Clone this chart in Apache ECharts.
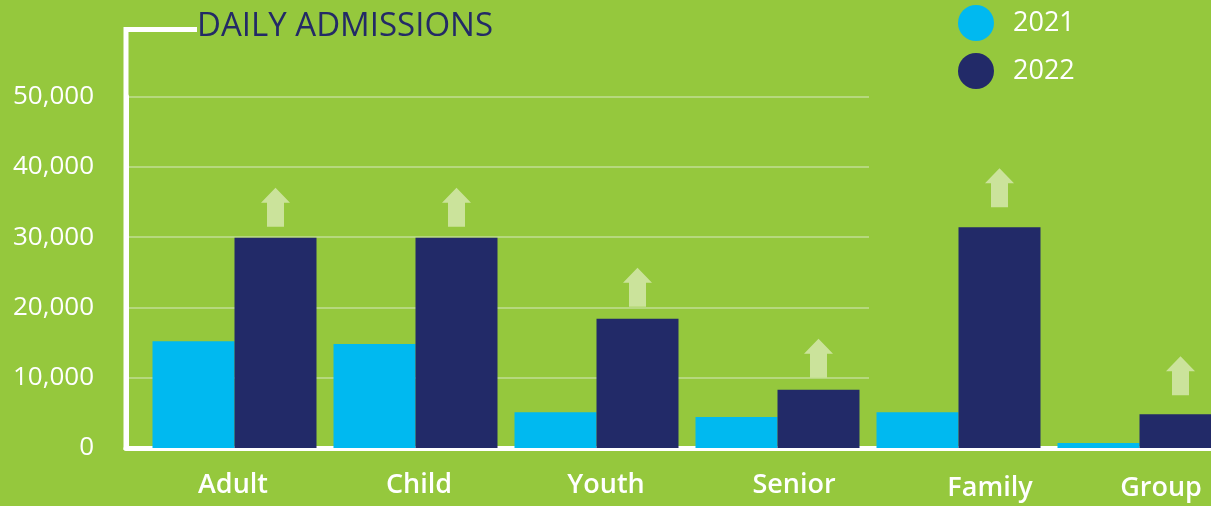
<!DOCTYPE html>
<html lang="en">
<head>
    <meta charset="UTF-8">
    <title>Daily Admissions</title>
    <script src="https://cdn.jsdelivr.net/npm/echarts@6/dist/echarts.min.js"></script>
    <style>
        html, body { margin: 0; padding: 0; background: #95c83d; }
        #main { width: 1211px; height: 506px; }
    </style>
</head>
<body>
<div id="main"></div>
<script>
    // data
    var categories = ['Adult', 'Child', 'Youth', 'Senior', 'Family', 'Group']
    var admissions2021 = [15200, 14800, 5100, 4400, 5100, 700]
    var admissions2022 = [29900, 29900, 18400, 8300, 31400, 4800]
    var yTicks = [0, 10000, 20000, 30000, 40000, 50000]

    var green = '#95c83d'
    var cyan = '#00b9f0'
    var navy = '#222a68'
    var arrowColor = '#cbe39b'
    var font = 'Open Sans'

    // label nudges (px) and arrow lift above each 2022 bar
    var labelShift = [-1.5, 3.5, 9.5, 16.5, 31.5, 21.5]
    var labelDrop = [1, 1, 1, 1, 4, 4]
    var arrowGap = [11, 11, 12, 12, 20, 19]

    var rich = {}
    for (var i = 0; i < categories.length; i++) {
        var s = labelShift[i]
        rich['l' + i] = {
            color: '#fff', fontSize: 27, fontWeight: 600, fontFamily: font,
            padding: [labelDrop[i], s < 0 ? -2 * s : 0, 0, s > 0 ? 2 * s : 0]
        }
    }

    var arrowData = admissions2022.map(function (v, i) {
        return {value: v, symbolOffset: [41, -(19.5 + arrowGap[i])]}
    })

    var yMin = yTicks[0], yMax = yTicks[yTicks.length - 1], yStep = yTicks[1] - yTicks[0]
    var whiteLine = {show: true, lineStyle: {color: '#fff', width: 5}}

    var mCharts = echarts.init(document.getElementById('main'))
    var option = {
        backgroundColor: green,
        animation: false,
        title: {
            text: 'DAILY ADMISSIONS',
            left: 197, top: 10, padding: 0,
            textStyle: {color: '#232a66', fontSize: 33, fontWeight: 'normal', fontFamily: font}
        },
        legend: {
            data: ['2021', '2022'],
            orient: 'vertical',
            left: 958, top: 5, padding: 0,
            icon: 'circle',
            itemWidth: 36, itemHeight: 36, itemGap: 12,
            textStyle: {color: '#fff', fontSize: 27, fontFamily: font, padding: [0, 0, 0, 14]}
        },
        graphic: [{
            type: 'polyline',
            z: 1,
            shape: {points: [[197, 29.5], [126, 29.5], [126, 450]]},
            style: {stroke: '#fff', lineWidth: 5, fill: null}
        }],
        grid: [
            // gridlines + y labels (lines stop at x=869)
            {left: 126, right: 342, top: 96.5, bottom: 58, outerBoundsMode: 'none'},
            // bars, run off the right edge
            {left: 144, right: -19, top: 96.5, bottom: 58, outerBoundsMode: 'none'}
        ],
        xAxis: [
            {
                type: 'category', gridIndex: 0, data: categories,
                axisLine: whiteLine, axisTick: {show: false}, axisLabel: {show: false}
            },
            {
                type: 'category', gridIndex: 1, data: categories,
                axisLine: whiteLine, axisTick: {show: false},
                axisLabel: {
                    margin: 23,
                    formatter: function (value, index) {
                        return '{l' + index + '|' + value + '}'
                    },
                    rich: rich
                }
            }
        ],
        yAxis: [
            {
                type: 'value', gridIndex: 0, min: yMin, max: yMax, interval: yStep,
                axisLine: whiteLine, axisTick: {show: false},
                splitLine: {lineStyle: {color: '#b6d87e', width: 2}},
                axisLabel: {
                    color: '#fff', fontSize: 26, fontFamily: font, margin: 32,
                    formatter: function (v) { return v.toLocaleString('en-US') }
                }
            },
            {type: 'value', gridIndex: 1, min: yMin, max: yMax, interval: yStep, show: false}
        ],
        series: [
            {
                name: '2021', type: 'bar', xAxisIndex: 1, yAxisIndex: 1,
                barWidth: 82, barGap: '0%',
                itemStyle: {color: cyan},
                data: admissions2021
            },
            {
                name: '2022', type: 'bar', xAxisIndex: 1, yAxisIndex: 1,
                barWidth: 82, barGap: '0%',
                itemStyle: {color: navy},
                data: admissions2022
            },
            {
                name: 'increase', type: 'scatter', xAxisIndex: 1, yAxisIndex: 1,
                silent: true,
                symbol: 'path://M14.5,0 L29,15 L23,15 L23,39 L6,39 L6,15 L0,15 Z',
                symbolSize: [29, 39],
                itemStyle: {color: arrowColor, opacity: 1},
                data: arrowData
            }
        ]
    }
    mCharts.setOption(option)
    window.onresize = mCharts.resize
</script>
</body>
</html>
